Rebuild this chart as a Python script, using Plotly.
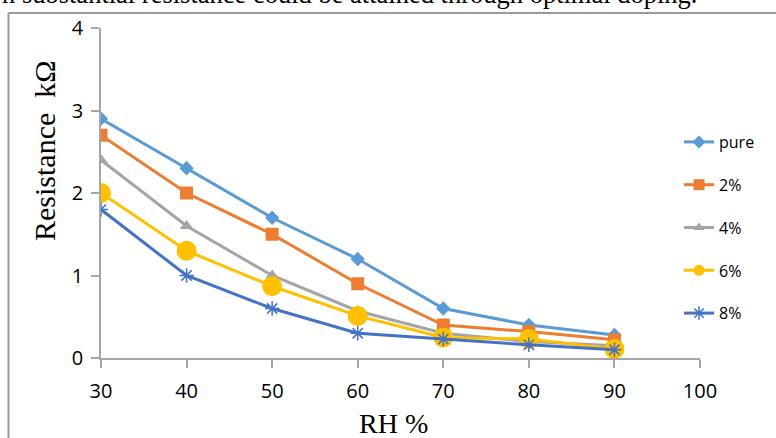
import plotly.graph_objects as go

rh = [30, 40, 50, 60, 70, 80, 90]
pure = [2.9, 2.3, 1.7, 1.2, 0.6, 0.4, 0.28]
dop2 = [2.7, 2.0, 1.5, 0.9, 0.4, 0.32, 0.22]
dop4 = [2.4, 1.6, 1.0, 0.57, 0.3, 0.2, 0.15]
dop6 = [2.0, 1.3, 0.87, 0.51, 0.25, 0.23, 0.11]
dop8 = [1.8, 1.0, 0.6, 0.3, 0.23, 0.16, 0.1]
names = ["pure", "2%", "4%", "6%", "8%"]
series = [pure, dop2, dop4, dop6, dop8]
colors = ["#5B9BD5", "#ED7D31", "#A5A5A5", "#FFC000", "#4472C4"]
symbols = ["diamond", "square", "triangle-up", "circle", "asterisk-open"]
sizes = [11, 13, 12, 20, 12]
legend_sizes = [10, 11, 10, 11, 11]
x_ticks = [30, 40, 50, 60, 70, 80, 90, 100]
y_ticks = [0, 1, 2, 3, 4]

W, H = 776, 438
L, R, T, B = 101, 700, 28, 358


def px(x):
    return (x - L) / (R - L)


def py(y):
    return (B - y) / (B - T)


def marker(i, size):
    mk = dict(symbol=symbols[i], size=size, color=colors[i])
    if symbols[i] == "asterisk-open":
        mk["line"] = dict(color=colors[i], width=1.5)
    return mk


fig = go.Figure()
for i, (nm, vals) in enumerate(zip(names, series)):
    fig.add_trace(go.Scatter(
        x=rh, y=vals, name=nm, mode="lines+markers",
        line=dict(color=colors[i], width=3),
        marker=marker(i, sizes[i]), legendgroup=nm, showlegend=False,
    ))
for i, nm in enumerate(names):
    fig.add_trace(go.Scatter(
        x=[None], y=[None], name=nm, mode="lines+markers",
        line=dict(color=colors[i], width=3),
        marker=marker(i, legend_sizes[i]), legendgroup=nm, showlegend=True,
    ))

fig.update_layout(
    width=W, height=H,
    margin=dict(l=L, r=W - R, t=T, b=H - B, pad=0),
    paper_bgcolor="white", plot_bgcolor="white",
    showlegend=True,
    legend=dict(
        x=px(679), xanchor="left", y=py(125), yanchor="top",
        font=dict(family="Open Sans", size=16, color="#000"),
        tracegroupgap=19, bgcolor="rgba(0,0,0,0)",
    ),
    xaxis=dict(
        range=[30, 100], tickvals=x_ticks, ticktext=[str(v) for v in x_ticks],
        showgrid=False, zeroline=False, showline=True, linecolor="#a6a6a6",
        linewidth=1.5, ticks="outside", ticklen=8, tickcolor="#a6a6a6",
        tickwidth=1.5, ticklabelstandoff=6,
        tickfont=dict(family="Open Sans", size=20, color="#000"),
    ),
    yaxis=dict(
        range=[0, 4], tickvals=y_ticks, ticktext=[str(v) for v in y_ticks],
        showgrid=False, zeroline=False, showline=True, linecolor="#a6a6a6",
        linewidth=1.5, ticks="outside", ticklen=8, tickcolor="#a6a6a6",
        tickwidth=1.5, ticklabelstandoff=4,
        tickfont=dict(family="Open Sans", size=20, color="#000"),
    ),
    shapes=[
        dict(type="line", xref="paper", yref="paper",
             x0=px(8.5), x1=px(8.5), y0=py(13), y1=py(460),
             line=dict(color="#9a9a9a", width=2)),
        dict(type="line", xref="paper", yref="paper",
             x0=px(8.5), x1=px(800), y0=py(13), y1=py(13),
             line=dict(color="#9a9a9a", width=2)),
    ],
    annotations=[
        dict(text="Resistance  kΩ", xref="paper", yref="paper",
             x=px(44), y=py(151), textangle=-90, showarrow=False,
             xanchor="center", yanchor="middle",
             font=dict(family="Liberation Serif", size=30, color="#000")),
        dict(text="RH %", xref="paper", yref="paper",
             x=px(393), y=py(423), showarrow=False,
             xanchor="center", yanchor="middle",
             font=dict(family="Liberation Serif", size=28, color="#000")),
        dict(text="n substantial resistance could be attained through optimal doping.",
             xref="paper", yref="paper", x=px(699), y=py(-6), showarrow=False,
             xanchor="right", yanchor="middle",
             font=dict(family="Liberation Serif", size=26.5, color="#000")),
    ],
)

fig.write_html("out.html")
